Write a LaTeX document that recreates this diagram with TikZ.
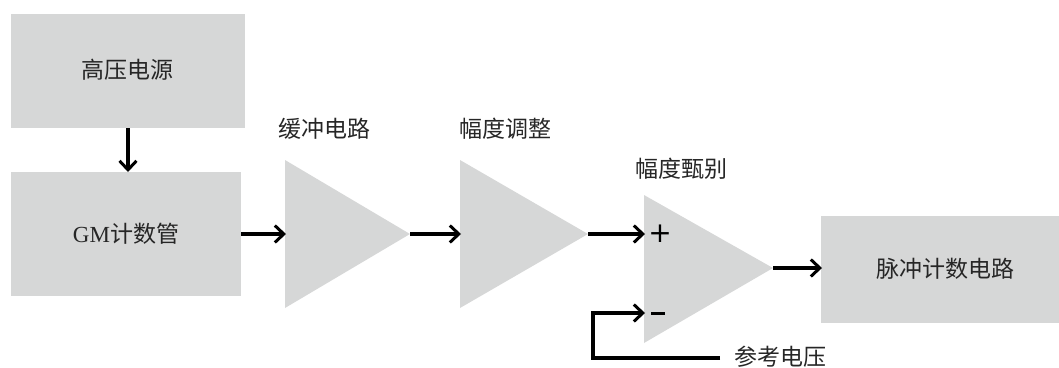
\documentclass[tikz,border=0pt]{standalone}
\usepackage{fontspec}
\setmainfont{Liberation Serif}
\newfontfamily\cjk{Noto Sans CJK SC}
\newfontfamily\symfont{DejaVu Sans}
\usetikzlibrary{arrows.meta}
\definecolor{blockgray}{HTML}{D6D7D7}
\tikzset{
  block/.style={fill=blockgray, draw=none, inner sep=0pt},
  lbl/.style={font=\fontsize{23}{26}\selectfont\cjk, inner sep=0pt, text=black!85},
  conn/.style={line width=3.2pt, -{Straight Barb[length=9pt,width=17pt,line width=3pt]}},
  sign/.style={font=\fontsize{28}{30}\selectfont\symfont, inner sep=0pt}
}
\begin{document}
\begin{tikzpicture}[x=1pt,y=-1pt]
\useasboundingbox (0,0) rectangle (1059,367);

% rectangular blocks
\path[block] (11,14) rectangle (245,128);
\node[lbl] (hv) at (127,70) {高压电源};
\coordinate (hvb) at (128,128);

\path[block] (11,172) rectangle (241,296);
\node[lbl] (gm) at (126,234) {{\fontsize{23}{26}\selectfont\rmfamily GM}计数管};
\coordinate (gmt) at (128,172);
\coordinate (gmr) at (241,234);

\path[block] (821,216) rectangle (1059,323);
\node[lbl] (cnt) at (945,269) {脉冲计数电路};
\coordinate (cntl) at (822,268);

% amplifier triangles
\path[block] (285,160) -- (410,234) -- (285,308) -- cycle;
\coordinate (b1in) at (286,234);
\coordinate (b1out) at (410,234);
\node[lbl] (b1lbl) at (324,129) {缓冲电路};

\path[block] (460,160) -- (588,234) -- (460,308) -- cycle;
\coordinate (b2in) at (461,234);
\coordinate (b2out) at (588,234);
\node[lbl] (b2lbl) at (505,129) {幅度调整};

\path[block] (644,195) -- (773,268) -- (644,343) -- cycle;
\coordinate (cmpp) at (645,234);
\coordinate (cmpm) at (645,313);
\coordinate (cmpout) at (773,268);
\node[lbl] (b3lbl) at (681,169) {幅度甄别};
\node[sign] (plus) at (660,234) {+};
\node[inner sep=0pt] (minus) at (658,313) {\rule{14pt}{3pt}};

% reference voltage input
\node[lbl] (ref) at (780,357) {参考电压};
\coordinate (refend) at (720,358);
\coordinate (corner1) at (593,358);
\coordinate (corner2) at (593,313);

% connectors
\draw[conn] (hvb) -- (gmt);
\draw[conn] (gmr) -- (b1in);
\draw[conn] (b1out) -- (b2in);
\draw[conn] (b2out) -- (cmpp);
\draw[conn] (cmpout) -- (cntl);
\draw[conn] (refend) -- (corner1) -- (corner2) -- (cmpm);
\end{tikzpicture}
\end{document}
